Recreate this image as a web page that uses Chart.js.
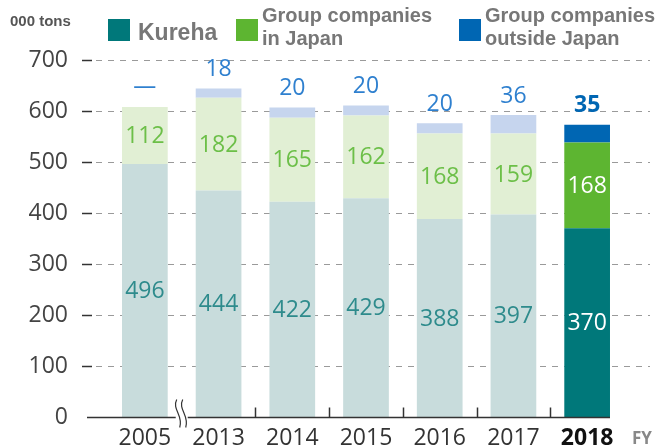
<!DOCTYPE html>
<html>
<head>
<meta charset="utf-8">
<script src="https://cdn.jsdelivr.net/npm/chart.js@4.4.0/dist/chart.umd.min.js"></script>
<style>
  html, body { margin: 0; padding: 0; background: #fff; }
  #wrap { width: 667px; height: 447px; }
</style>
</head>
<body>
<div id="wrap"><canvas id="chart" width="667" height="447"></canvas></div>
<script>
// ---------- Data ----------
const years = ["2005", "2013", "2014", "2015", "2016", "2017", "2018"];
const kureha = [496, 444, 422, 429, 388, 397, 370];
const japan = [112, 182, 165, 162, 168, 159, 168];
const outside = [0, 18, 20, 20, 20, 36, 35];
const outsideLabels = ["—", "18", "20", "20", "20", "36", "35"];
const yTicks = [0, 100, 200, 300, 400, 500, 600, 700];

const legendItems = [
  { lines: ["Kureha"], color: "#00787a" },
  { lines: ["Group companies", "in Japan"], color: "#5db531" },
  { lines: ["Group companies", "outside Japan"], color: "#0066b3" }
];

// ---------- Colours ----------
const faded = { kureha: "#c8dcdc", japan: "#e1efd4", outside: "#c6d5ee" };
const full = { kureha: "#00787a", japan: "#5db531", outside: "#0066b3" };
const labelColor = { kureha: "#2e8b8c", japan: "#6cbf48", outside: "#2f80cf" };
const numFont = '"Open Sans", "DejaVu Sans", sans-serif';
const legendFont = '"Liberation Sans", Arial, sans-serif';

function colorsFor(key) {
  return years.map((y, i) => i === years.length - 1 ? full[key] : faded[key]);
}

// ---------- Custom drawing ----------
const decorPlugin = {
  id: "decor",
  beforeDatasetsDraw(chart) {
    const ctx = chart.ctx;
    const y = chart.scales.y;
    const area = chart.chartArea;
    const gridLeft = area.left - 26;
    const gridRight = area.right + 26;
    ctx.save();
    yTicks.forEach(v => {
      if (v === 0) return;
      const py = Math.round(y.getPixelForValue(v)) + 0.5;
      ctx.setLineDash([]);
      ctx.strokeStyle = "#333";
      ctx.lineWidth = 1.5;
      ctx.beginPath();
      ctx.moveTo(gridLeft, py);
      ctx.lineTo(gridLeft + 10, py);
      ctx.stroke();
      ctx.setLineDash([6, 6]);
      ctx.strokeStyle = "#9a9a9a";
      ctx.lineWidth = 1;
      ctx.beginPath();
      ctx.moveTo(gridLeft + 14, py);
      ctx.lineTo(gridRight, py);
      ctx.stroke();
    });
    ctx.restore();
  },
  afterDatasetsDraw(chart) {
    const ctx = chart.ctx;
    const y = chart.scales.y;
    const x = chart.scales.x;
    const area = chart.chartArea;
    const last = years.length - 1;
    const baseY = Math.round(y.getPixelForValue(0)) + 0.5;

    ctx.save();
    // baseline
    ctx.setLineDash([]);
    ctx.strokeStyle = "#333";
    ctx.lineWidth = 1.5;
    ctx.beginPath();
    ctx.moveTo(area.left - 21, baseY);
    ctx.lineTo(area.right - 14, baseY);
    ctx.stroke();

    // small ticks between categories (not across the break)
    for (let i = 1; i < years.length - 1; i++) {
      const px = Math.round((x.getPixelForValue(i) + x.getPixelForValue(i + 1)) / 2) + 0.5;
      ctx.beginPath();
      ctx.moveTo(px, baseY);
      ctx.lineTo(px, baseY - 10);
      ctx.stroke();
    }

    // axis break between 2005 and 2013
    const bx = (x.getPixelForValue(0) + x.getPixelForValue(1)) / 2;
    ctx.fillStyle = "#fff";
    ctx.fillRect(bx - 6, baseY - 3, 12, 6);
    ctx.strokeStyle = "#333";
    ctx.lineWidth = 1.2;
    [-3, 3].forEach(dx => {
      const cx = bx + dx;
      ctx.beginPath();
      ctx.moveTo(cx - 2, baseY - 18);
      ctx.bezierCurveTo(cx - 7, baseY - 8, cx + 5, baseY - 2, cx + 1, baseY + 10);
      ctx.stroke();
    });

    // value labels
    ctx.textAlign = "center";
    ctx.textBaseline = "middle";
    const metaK = chart.getDatasetMeta(0);
    const metaJ = chart.getDatasetMeta(1);
    const metaO = chart.getDatasetMeta(2);
    years.forEach((yr, i) => {
      const isLast = i === last;
      const bk = metaK.data[i];
      const bj = metaJ.data[i];
      const bo = metaO.data[i];
      ctx.font = "400 23px " + numFont;
      ctx.fillStyle = isLast ? "#fff" : labelColor.kureha;
      ctx.fillText(String(kureha[i]), bk.x, (bk.y + bk.base) / 2 + 1);
      ctx.fillStyle = isLast ? "#fff" : labelColor.japan;
      ctx.fillText(String(japan[i]), bj.x, (bj.y + bj.base) / 2 + 1);
      ctx.font = (isLast ? "700 " : "400 ") + "23px " + numFont;
      ctx.fillStyle = isLast ? full.outside : labelColor.outside;
      ctx.fillText(outsideLabels[i], bo.x, bo.y - 19);
    });

    // FY label
    ctx.font = "700 17px " + numFont;
    ctx.fillStyle = "#888";
    ctx.textAlign = "left";
    ctx.fillText("FY", area.right + 8, baseY + 22);

    // unit label
    ctx.font = "700 15px " + legendFont;
    ctx.fillStyle = "#555";
    ctx.fillText("000 tons", 10, 22);

    // legend
    const legendX = [108, 236, 459];
    legendItems.forEach((item, k) => {
      const lx = legendX[k];
      ctx.fillStyle = item.color;
      ctx.fillRect(lx, 19, 22, 22);
      ctx.fillStyle = "#777";
      ctx.textBaseline = "alphabetic";
      if (item.lines.length === 1) {
        ctx.font = "700 23px " + legendFont;
        ctx.fillText(item.lines[0], lx + 30, 40);
      } else {
        ctx.font = "700 20px " + legendFont;
        ctx.fillText(item.lines[0], lx + 26, 22);
        ctx.fillText(item.lines[1], lx + 26, 45);
      }
    });
    ctx.restore();
  }
};

// ---------- Chart ----------
const ctx = document.getElementById("chart").getContext("2d");
new Chart(ctx, {
  type: "bar",
  data: {
    labels: years,
    datasets: [
      { label: "Kureha", data: kureha, backgroundColor: colorsFor("kureha") },
      { label: "Group companies in Japan", data: japan, backgroundColor: colorsFor("japan") },
      { label: "Group companies outside Japan", data: outside, backgroundColor: colorsFor("outside") }
    ]
  },
  options: {
    responsive: false,
    animation: false,
    layout: { padding: { left: 28, right: 43, top: 60, bottom: 0 } },
    datasets: { bar: { barPercentage: 0.62, categoryPercentage: 1 } },
    plugins: { legend: { display: false }, tooltip: { enabled: false } },
    scales: {
      x: {
        stacked: true,
        grid: { display: false, drawTicks: false },
        border: { display: false },
        afterFit: scale => { scale.height = 30; },
        ticks: {
          padding: 8,
          maxRotation: 0,
          minRotation: 0,
          autoSkip: false,
          color: c => c.index === years.length - 1 ? "#111" : "#333",
          font: c => ({ family: numFont, size: 23, weight: c.index === years.length - 1 ? "700" : "400" })
        }
      },
      y: {
        stacked: true,
        min: 0,
        max: 700,
        grid: { display: false, drawTicks: false },
        border: { display: false },
        afterFit: scale => {
          scale.width = 80;
          scale.paddingTop = 0;
          scale.paddingBottom = 0;
        },
        ticks: {
          stepSize: 100,
          padding: 40,
          color: "#444",
          font: { family: numFont, size: 23 }
        }
      }
    }
  },
  plugins: [decorPlugin]
});
</script>
</body>
</html>
